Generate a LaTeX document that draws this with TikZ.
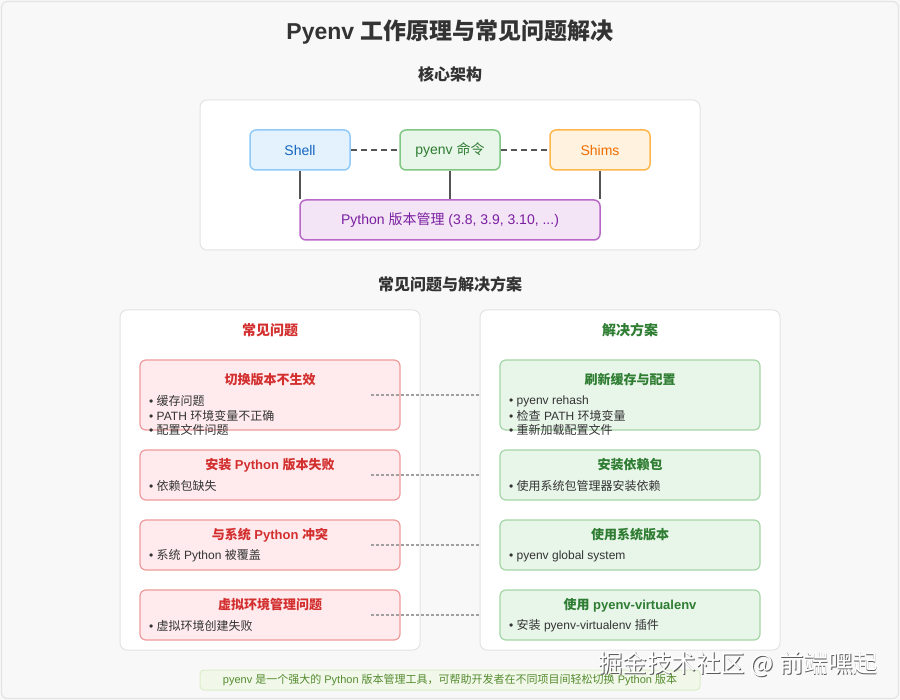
\documentclass[tikz,border=0pt]{standalone}
\usepackage{fontspec}
\setmainfont{Liberation Sans}
\newfontfamily\cjk{Noto Sans CJK SC}
\newcommand\C[1]{{\cjk #1}}
\usetikzlibrary{calc}
\definecolor{bg}{HTML}{F8F8F8}
\definecolor{outline}{HTML}{E4E4E4}
\definecolor{panelline}{HTML}{E3E3E3}
\definecolor{ink}{HTML}{333333}
\definecolor{shellfill}{HTML}{E3F2FD}
\definecolor{shellline}{HTML}{90CAF9}
\definecolor{shelltext}{HTML}{1565C0}
\definecolor{cmdfill}{HTML}{E8F5E9}
\definecolor{cmdline}{HTML}{81C784}
\definecolor{cmdtext}{HTML}{2E7D32}
\definecolor{shimfill}{HTML}{FFF3E0}
\definecolor{shimline}{HTML}{FFB74D}
\definecolor{shimtext}{HTML}{EF6C00}
\definecolor{pyfill}{HTML}{F3E5F5}
\definecolor{pyline}{HTML}{BA68C8}
\definecolor{pytext}{HTML}{7B1FA2}
\definecolor{probfill}{HTML}{FFEBEE}
\definecolor{probline}{HTML}{EF9A9A}
\definecolor{probtext}{HTML}{D32F2F}
\definecolor{solfill}{HTML}{E8F5E9}
\definecolor{solline}{HTML}{A5D6A7}
\definecolor{soltext}{HTML}{2E7D32}
\definecolor{footfill}{HTML}{F1F8E9}
\definecolor{footline}{HTML}{DCEDC8}
\definecolor{foottext}{HTML}{558B2F}
\definecolor{linkgray}{HTML}{555555}
\definecolor{dotgray}{HTML}{A0A0A0}
\begin{document}
\begin{tikzpicture}[x=1pt,y=-1pt,
  panel/.style={draw=panelline,fill=white,line width=1pt,rounded corners=7pt,inner sep=0pt},
  comp/.style={rounded corners=6pt,line width=1.5pt,minimum width=100pt,minimum height=40pt,inner sep=0pt,font=\fontsize{14}{16}\selectfont},
  probbox/.style={draw=probline,fill=probfill,line width=1.2pt,rounded corners=6pt,minimum width=260pt,inner sep=0pt},
  solbox/.style={draw=solline,fill=solfill,line width=1.2pt,rounded corners=6pt,minimum width=260pt,inner sep=0pt},
  head/.style={font=\bfseries\fontsize{16}{18}\selectfont,text=ink,inner sep=0pt},
  ptitle/.style={font=\bfseries\fontsize{13}{15}\selectfont,text=probtext,inner sep=0pt},
  stitle/.style={font=\bfseries\fontsize{13}{15}\selectfont,text=soltext,inner sep=0pt},
  colhead/.style={font=\bfseries\fontsize{14}{16}\selectfont,inner sep=0pt},
  bullet/.style={anchor=west,font=\fontsize{12}{14}\selectfont,text=ink,inner sep=0pt},
  solid link/.style={draw=linkgray,line width=2pt},
  dash link/.style={draw=linkgray,line width=1.6pt,dash pattern=on 6pt off 4pt},
  dot link/.style={draw=dotgray,line width=1.2pt,dash pattern=on 3pt off 2pt},
  wmark/.style={font=\cjk\fontsize{24.5}{26}\selectfont,inner sep=0pt}
]
\useasboundingbox (0,0) rectangle (900,700);
\fill[bg] (0,0) rectangle (900,700);
\draw[outline,line width=1.2pt,rounded corners=6pt] (1.5,1.5) rectangle (898.5,698.5);

% title
\node[font=\bfseries\fontsize{23}{27}\selectfont,text=ink,inner sep=0pt] (title) at (450,32) {Pyenv \C{工作原理与常见问题解决}};
\node[head] (corehead) at (450,74) {\C{核心架构}};

% core panel
\node[panel,minimum width=500pt,minimum height=150pt] (core) at (450,175) {};
\node[comp,draw=shellline,fill=shellfill,text=shelltext] (shell) at (300,150) {Shell};
\node[comp,draw=cmdline,fill=cmdfill,text=cmdtext] (cmd) at (450,150) {pyenv \C{命令}};
\node[comp,draw=shimline,fill=shimfill,text=shimtext] (shims) at (600,150) {Shims};
\node[comp,draw=pyline,fill=pyfill,text=pytext,minimum width=300pt] (py) at (450,220) {Python \C{版本管理} (3.8, 3.9, 3.10, ...)};
\draw[dash link] (shell.east) -- (cmd.west);
\draw[dash link] (cmd.east) -- (shims.west);
\draw[solid link] (shell.south) -- (shell.south |- py.north);
\draw[solid link] (cmd.south) -- (py.north);
\draw[solid link] (shims.south) -- (shims.south |- py.north);

\node[head] (issuehead) at (450,284) {\C{常见问题与解决方案}};

% panels
\node[panel,minimum width=300pt,minimum height=340pt] (lp) at (270,480) {};
\node[panel,minimum width=300pt,minimum height=340pt] (rp) at (630,480) {};
\node[colhead,text=probtext] (lph) at (270,330) {\C{常见问题}};
\node[colhead,text=soltext] (rph) at (630,330) {\C{解决方案}};

% problem boxes
\node[probbox,minimum height=70pt] (p1) at (270,395) {};
\node[probbox,minimum height=50pt] (p2) at (270,475) {};
\node[probbox,minimum height=50pt] (p3) at (270,545) {};
\node[probbox,minimum height=50pt] (p4) at (270,615) {};
% solution boxes
\node[solbox,minimum height=70pt] (s1) at (630,395) {};
\node[solbox,minimum height=50pt] (s2) at (630,475) {};
\node[solbox,minimum height=50pt] (s3) at (630,545) {};
\node[solbox,minimum height=50pt] (s4) at (630,615) {};

% problem texts
\node[ptitle] (p1t) at (270,380) {\C{切换版本不生效}};
\node[bullet] (p1a) at (149,401) {• \C{缓存问题}};
\node[bullet] (p1b) at (149,415.5) {• PATH \C{环境变量不正确}};
\node[bullet] (p1c) at (149,430) {• \C{配置文件问题}};
\node[ptitle] (p2t) at (270,465) {\C{安装} Python \C{版本失败}};
\node[bullet] (p2a) at (149,486) {• \C{依赖包缺失}};
\node[ptitle] (p3t) at (270,535) {\C{与系统} Python \C{冲突}};
\node[bullet] (p3a) at (149,556) {• \C{系统} Python \C{被覆盖}};
\node[ptitle] (p4t) at (270,605) {\C{虚拟环境管理问题}};
\node[bullet] (p4a) at (149,626) {• \C{虚拟环境创建失败}};

% solution texts
\node[stitle] (s1t) at (630,380) {\C{刷新缓存与配置}};
\node[bullet] (s1a) at (509,401) {• pyenv rehash};
\node[bullet] (s1b) at (509,415.5) {• \C{检查} PATH \C{环境变量}};
\node[bullet] (s1c) at (509,430) {• \C{重新加载配置文件}};
\node[stitle] (s2t) at (630,465) {\C{安装依赖包}};
\node[bullet] (s2a) at (509,486) {• \C{使用系统包管理器安装依赖}};
\node[stitle] (s3t) at (630,535) {\C{使用系统版本}};
\node[bullet] (s3a) at (509,556) {• pyenv global system};
\node[stitle] (s4t) at (630,605) {\C{使用} pyenv-virtualenv};
\node[bullet] (s4a) at (509,626) {• \C{安装} pyenv-virtualenv \C{插件}};

% dotted links
\foreach \i in {1,2,3,4}{
  \coordinate (d\i) at ($(p\i.east)+(-30,0)$);
  \draw[dot link] (d\i) -- (d\i -| rp.west);
}

% footer
\node[draw=footline,fill=footfill,line width=1pt,rounded corners=4pt,minimum width=500pt,minimum height=20pt,inner sep=0pt,text=foottext,font=\fontsize{11}{12}\selectfont] (foot) at (450,680)
  {pyenv \C{是一个强大的} Python \C{版本管理工具，可帮助开发者在不同项目间轻松切换} Python \C{版本}};

% watermark
\node[wmark,text=black!65] (wms) at (738.9,664.9) {掘金技术社区 @ 前端嘿起};
\node[wmark,text=white] (wm) at (738,664) {掘金技术社区 @ 前端嘿起};
\end{tikzpicture}
\end{document}
